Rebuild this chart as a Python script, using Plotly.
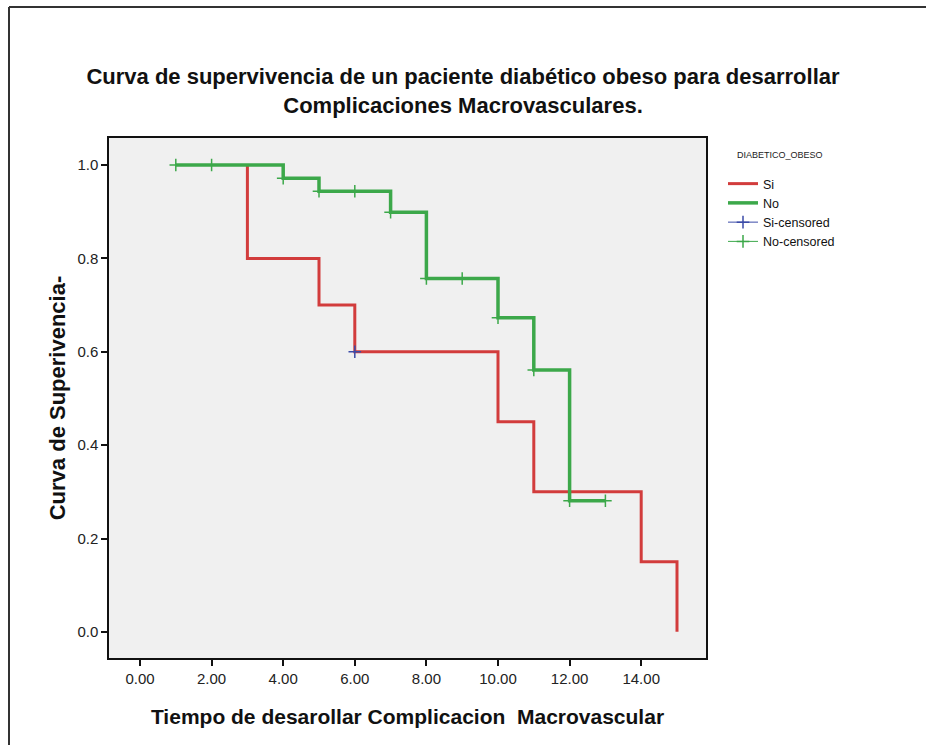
import plotly.graph_objects as go

# Kaplan-Meier step points (time, survival after the step)
si_time = [3, 3, 5, 6, 10, 11, 14, 15]
si_surv = [1.0, 0.80, 0.70, 0.60, 0.45, 0.30, 0.15, 0.0]

no_time = [1, 4, 5, 7, 8, 10, 11, 12, 13]
no_surv = [1.0, 0.972, 0.944, 0.899, 0.757, 0.673, 0.561, 0.281, 0.281]

# Censored observations
si_cens_time = [6]
si_cens_surv = [0.60]

no_cens_time = [1, 2, 4, 5, 6, 7, 8, 9, 10, 11, 12, 13]
no_cens_surv = [1.0, 1.0, 0.972, 0.944, 0.944, 0.899, 0.757, 0.757, 0.673, 0.561, 0.281, 0.281]

x_ticks = [0, 2, 4, 6, 8, 10, 12, 14]
y_ticks = [0.0, 0.2, 0.4, 0.6, 0.8, 1.0]

RED = "#d23c3c"
GREEN = "#3ca84a"
BLUE = "#3b4ba8"
FONT = "Liberation Sans, Arial, sans-serif"


def separated(xs, ys):
    """Interleave None so each censored point stays unconnected."""
    ox, oy = [], []
    for a, b in zip(xs, ys):
        ox += [a, None]
        oy += [b, None]
    return ox[:-1], oy[:-1]


fig = go.Figure()

fig.add_trace(go.Scatter(
    x=si_time, y=si_surv, mode="lines", name="Si",
    line=dict(color=RED, width=3, shape="hv"),
))
fig.add_trace(go.Scatter(
    x=no_time, y=no_surv, mode="lines", name="No",
    line=dict(color=GREEN, width=3.5, shape="hv"),
))

sx, sy = separated(si_cens_time, si_cens_surv)
fig.add_trace(go.Scatter(
    x=sx, y=sy, mode="lines+markers", name="Si-censored",
    line=dict(color=BLUE, width=1),
    marker=dict(symbol="cross-thin", size=9, line=dict(width=1.5, color=BLUE)),
))
nx, ny = separated(no_cens_time, no_cens_surv)
fig.add_trace(go.Scatter(
    x=nx, y=ny, mode="lines+markers", name="No-censored",
    line=dict(color=GREEN, width=1),
    marker=dict(symbol="cross-thin", size=9, line=dict(width=1.5, color=GREEN)),
))

W, H = 926, 745
L, R, T, B = 109, 220, 138, 87
pw, ph = W - L - R, H - T - B


def px_x(p):
    return (p - L) / pw


def px_y(p):
    return (H - B - p) / ph


fig.update_layout(
    width=W, height=H,
    margin=dict(l=L, r=R, t=T, b=B, pad=0),
    paper_bgcolor="white",
    plot_bgcolor="#f0f0f0",
    font=dict(family=FONT, color="#111111"),
    title=dict(
        text="Curva de supervivencia de un paciente diabético obeso para desarrollar<br>Complicaciones Macrovasculares.",
        x=0.5, xref="container", xanchor="center",
        y=1 - 84 / H, yref="container", yanchor="middle",
        font=dict(family=FONT, size=22, color="#111111", weight="bold"),
    ),
    legend=dict(
        x=px_x(723), y=px_y(169), xanchor="left", yanchor="top",
        font=dict(size=12.5, color="#111111"),
        itemwidth=30, tracegroupgap=0,
        bgcolor="rgba(0,0,0,0)",
    ),
    showlegend=True,
    annotations=[
        dict(text="DIABETICO_OBESO", xref="paper", yref="paper",
             x=px_x(735), y=px_y(155), xanchor="left", yanchor="middle",
             showarrow=False, font=dict(size=9, color="#222222")),
    ],
    shapes=[
        dict(type="line", xref="paper", yref="paper",
             x0=px_x(9), x1=px_x(W + 5), y0=px_y(7), y1=px_y(7),
             line=dict(color="#333333", width=2)),
        dict(type="line", xref="paper", yref="paper",
             x0=px_x(9), x1=px_x(9), y0=px_y(7), y1=px_y(H + 5),
             line=dict(color="#333333", width=2)),
    ],
)

fig.update_xaxes(
    range=[-0.866, 15.81],
    tickvals=x_ticks, ticktext=[f"{v:.2f}" for v in x_ticks],
    showgrid=False, zeroline=False,
    showline=True, mirror=True, linecolor="#111111", linewidth=1.5,
    ticks="outside", ticklen=6, tickwidth=1.5, tickcolor="#111111",
    tickfont=dict(size=15, color="#222222"),
    title=dict(text="Tiempo de desarollar Complicacion  Macrovascular",
               font=dict(size=21, weight="bold", color="#111111"), standoff=24),
)
fig.update_yaxes(
    range=[-0.056, 1.058],
    tickvals=y_ticks, ticktext=[f"{v:.1f}" for v in y_ticks],
    showgrid=False, zeroline=False,
    showline=True, mirror=True, linecolor="#111111", linewidth=1.5,
    ticks="outside", ticklen=6, tickwidth=1.5, tickcolor="#111111",
    tickfont=dict(size=15, color="#222222"),
    title=dict(text="Curva de Superivencia-",
               font=dict(size=22, weight="bold", color="#111111"), standoff=6),
)

fig.write_html("out.html")
